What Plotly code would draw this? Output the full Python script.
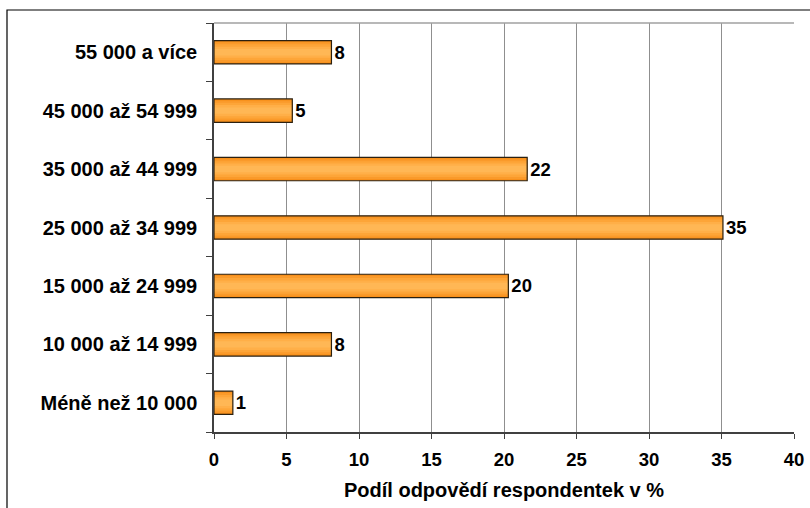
import plotly.graph_objects as go

categories = ["Méně než 10 000", "10 000 až 14 999", "15 000 až 24 999",
              "25 000 až 34 999", "35 000 až 44 999", "45 000 až 54 999",
              "55 000 a více"]
values = [1.3, 8.1, 20.3, 35.1, 21.6, 5.4, 8.1]
value_labels = ["1", "8", "20", "35", "22", "5", "8"]
x_ticks = [0, 5, 10, 15, 20, 25, 30, 35, 40]

FONT = "Liberation Sans, Arial, sans-serif"

fig = go.Figure()

# gradient simulated by layered bars (outer darker, inner lighter)
layers = [(0.40, "#F78F1A"), (0.34, "#FA9A2A"), (0.27, "#FDA538"),
          (0.19, "#FFAF48"), (0.11, "#FFB755")]
for w, c in layers:
    fig.add_trace(go.Bar(y=categories, x=values, orientation="h", width=w,
                         marker=dict(color=c, line=dict(width=0)),
                         hoverinfo="skip", showlegend=False))

fig.add_trace(go.Bar(y=categories, x=values, orientation="h", width=0.40,
                     marker=dict(color="rgba(0,0,0,0)",
                                 line=dict(color="#2b2010", width=1.2)),
                     text=value_labels, textposition="outside",
                     textfont=dict(family=FONT, size=18.5, color="black", weight="bold"),
                     cliponaxis=False, showlegend=False))

fig.update_layout(
    width=810, height=508,
    margin=dict(l=214, r=16, t=23, b=76),
    barmode="overlay",
    plot_bgcolor="white", paper_bgcolor="white",
    font=dict(family=FONT, color="black"),
    xaxis=dict(range=[0, 40], tickvals=x_ticks, showgrid=True, automargin=False,
               gridcolor="#8f8f8f", gridwidth=1, zeroline=False,
               showline=True, linecolor="#404040", linewidth=1.5,
               ticks="outside", ticklen=5, tickcolor="#404040",
               tickfont=dict(family=FONT, size=18.5, weight="bold"),
               ticklabelstandoff=5,
               title=dict(text="Podíl odpovědí respondentek v %",
                          font=dict(family=FONT, size=20, weight="bold"),
                          standoff=14)),
    yaxis=dict(type="category", categoryorder="array", categoryarray=categories,
               showgrid=False, zeroline=False, automargin=False,
               showline=True, linecolor="#404040", linewidth=1.5,
               ticks="outside", tickson="boundaries", ticklen=6, tickcolor="#404040",
               tickfont=dict(family=FONT, size=20, weight="bold"),
               ticklabelstandoff=11),
    shapes=[
        dict(type="line", xref="paper", yref="paper", x0=0, x1=1, y0=1, y1=1,
             line=dict(color="#a0a0a0", width=1.5)),
        dict(type="rect", xref="paper", yref="paper",
             x0=-0.3569, x1=1.2, y0=-0.4, y1=1.0318,
             line=dict(color="black", width=1.2), fillcolor="rgba(0,0,0,0)"),
    ],
)

fig.write_html("out.html", config={"displayModeBar": False},
               post_script="document.body.style.margin='0';document.body.style.overflow='hidden';")
